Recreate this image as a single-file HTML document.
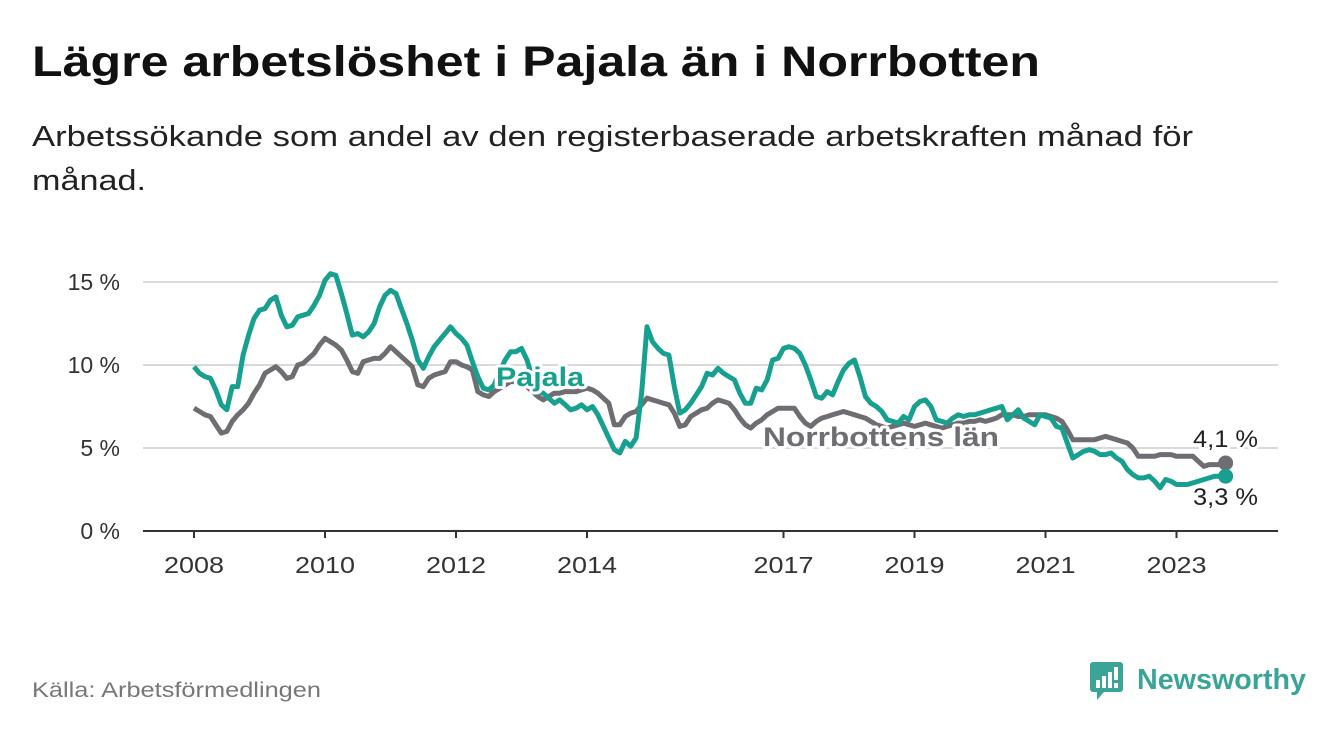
<!DOCTYPE html>
<html><head><meta charset="utf-8">
<style>
body{margin:0;background:#fff;width:1340px;height:734px;overflow:hidden;font-family:"Liberation Sans",sans-serif;}
svg{position:absolute;left:0;top:0}
</style></head>
<body>
<svg width="1340" height="734" id="chart">
<text x="32" y="76" font-size="43" font-weight="bold" fill="#111" textLength="1008" lengthAdjust="spacingAndGlyphs">Lägre arbetslöshet i Pajala än i Norrbotten</text>
<text x="32" y="146" font-size="29" fill="#222" textLength="1161" lengthAdjust="spacingAndGlyphs">Arbetssökande som andel av den registerbaserade arbetskraften månad för</text>
<text x="32" y="190" font-size="29" fill="#222" textLength="114" lengthAdjust="spacingAndGlyphs">månad.</text>
<g id="grid"></g>
<g id="series"></g>
<g id="labels"></g>
<text x="32" y="697" font-size="21" fill="#777" textLength="289" lengthAdjust="spacingAndGlyphs">Källa: Arbetsförmedlingen</text>
<g>
<rect x="1090" y="662" width="33" height="30" rx="3" fill="#3aa597"/>
<polygon points="1097,692 1104,692 1097,700" fill="#3aa597"/>
<rect x="1096" y="680" width="4" height="8" fill="#fff"/><rect x="1102" y="676" width="4" height="12" fill="#fff"/><rect x="1108" y="672" width="4" height="16" fill="#fff"/><rect x="1114" y="667" width="4" height="13" fill="#fff"/><rect x="1114" y="683" width="4" height="5" fill="#fff"/>
<text x="1137" y="689" font-size="29" font-weight="bold" fill="#3aa597" textLength="169" lengthAdjust="spacingAndGlyphs">Newsworthy</text>
</g>
</svg>
<script>
const yTicks=[0,5,10,15];
const yTickLabels=["0 %","5 %","10 %","15 %"];
const xTickYears=[2008,2010,2012,2014,2017,2019,2021,2023];
const startYear=2008;
const pajala=[9.9,9.5,9.3,9.2,8.5,7.6,7.3,8.7,8.7,10.6,
11.8,12.8,13.3,13.4,13.9,14.1,13.0,12.3,12.4,12.9,
13.0,13.1,13.6,14.2,15.1,15.5,15.4,14.3,13.1,11.8,
11.9,11.7,12.0,12.5,13.5,14.2,14.5,14.3,13.4,12.5,
11.5,10.3,9.8,10.5,11.1,11.5,11.9,12.3,11.9,11.6,
11.2,10.2,9.3,8.6,8.5,8.8,9.6,10.3,10.8,10.8,
11.0,10.3,9.2,8.4,8.3,8.0,7.7,7.9,7.6,7.3,
7.4,7.6,7.3,7.5,7.0,6.3,5.6,4.9,4.7,5.4,
5.1,5.6,8.3,12.3,11.4,11.0,10.7,10.6,8.7,7.1,
7.3,7.7,8.2,8.7,9.5,9.4,9.8,9.5,9.3,9.1,
8.3,7.7,7.7,8.6,8.5,9.1,10.3,10.4,11.0,11.1,
11.0,10.7,10.0,9.1,8.1,8.0,8.4,8.2,9.0,9.7,
10.1,10.3,9.3,8.1,7.7,7.5,7.2,6.7,6.6,6.5,
6.9,6.7,7.5,7.8,7.9,7.5,6.7,6.6,6.5,6.8,
7.0,6.9,7.0,7.0,7.1,7.2,7.3,7.4,7.5,6.7,
7.0,7.3,6.8,6.6,6.4,7.0,6.9,6.8,6.3,6.2,
5.3,4.4,4.6,4.8,4.9,4.8,4.6,4.6,4.7,4.4,
4.2,3.7,3.4,3.2,3.2,3.3,3.0,2.6,3.1,3.0,
2.8,2.8,2.8,2.9,3.0,3.1,3.2,3.3,3.3,3.3];
const norrbotten=[7.4,7.2,7.0,6.9,6.4,5.9,6.0,6.6,7.0,7.3,
7.7,8.3,8.8,9.5,9.7,9.9,9.6,9.2,9.3,10.0,
10.1,10.4,10.7,11.2,11.6,11.4,11.2,10.9,10.3,9.6,
9.5,10.2,10.3,10.4,10.4,10.7,11.1,10.8,10.5,10.2,
9.9,8.8,8.7,9.2,9.4,9.5,9.6,10.2,10.2,10.0,
9.9,9.7,8.4,8.2,8.1,8.4,8.6,8.8,9.0,9.0,
8.9,8.7,8.4,8.1,7.9,8.1,8.3,8.3,8.4,8.4,
8.4,8.5,8.6,8.5,8.3,8.0,7.7,6.4,6.4,6.9,
7.1,7.2,7.6,8.0,7.9,7.8,7.7,7.6,7.1,6.3,
6.4,6.9,7.1,7.3,7.4,7.7,7.9,7.8,7.7,7.3,
6.8,6.4,6.2,6.5,6.7,7.0,7.2,7.4,7.4,7.4,
7.4,6.9,6.5,6.3,6.6,6.8,6.9,7.0,7.1,7.2,
7.1,7.0,6.9,6.8,6.6,6.4,6.3,6.2,6.3,6.4,
6.5,6.4,6.3,6.4,6.5,6.4,6.3,6.2,6.3,6.4,
6.5,6.5,6.6,6.6,6.7,6.6,6.7,6.8,7.0,7.0,
7.0,6.9,6.9,7.0,7.0,7.0,7.0,6.9,6.8,6.6,
6.1,5.5,5.5,5.5,5.5,5.5,5.6,5.7,5.6,5.5,
5.4,5.3,5.0,4.5,4.5,4.5,4.5,4.6,4.6,4.6,
4.5,4.5,4.5,4.5,4.2,3.9,4.0,4.0,4.0,4.1];

const NS="http://www.w3.org/2000/svg";
const x0=194,pxYear=65.5,y0=531,pxPct=16.6;
function xMonth(i){return x0+i*pxYear/12;}
function xYear(y){return x0+(y-startYear)*pxYear;}
function yv(v){return y0-v*pxPct;}
function mk(tag,attrs,parent){const e=document.createElementNS(NS,tag);for(const k in attrs)e.setAttribute(k,attrs[k]);parent.appendChild(e);return e;}
const grid=document.getElementById('grid'),series=document.getElementById('series'),labels=document.getElementById('labels');
yTicks.forEach((t,k)=>{
  if(t>0){const l=mk('line',{x1:143,x2:1278,y1:yv(t),y2:yv(t),stroke:'#d9d9d9','stroke-width':2},grid);
  
  }
  const tx=mk('text',{x:120,y:yv(t)+8,'font-size':23,fill:'#333','text-anchor':'end'},grid);
  tx.textContent=yTickLabels[k];
  
  
});
const ax=mk('line',{x1:143,x2:1278,y1:y0,y2:y0,stroke:'#333','stroke-width':2},grid);


xTickYears.forEach(yr=>{
  const x=xYear(yr);
  const tk=mk('line',{x1:x,x2:x,y1:y0,y2:y0+7,stroke:'#333','stroke-width':2},grid);
  
  
  const tx=mk('text',{x:x,y:573,'font-size':23,fill:'#333','text-anchor':'middle',textLength:60,lengthAdjust:'spacingAndGlyphs'},grid);
  tx.textContent=yr;
  
  
});
function line(data,color,name){
  const d=data.map((v,i)=>(i?'L':'M')+xMonth(i).toFixed(1)+','+yv(v).toFixed(1)).join('');
  const p=mk('path',{d:d,fill:'none',stroke:color,'stroke-width':5,'stroke-linejoin':'round'},series);
  
  
  const n=data.length-1;
  const c=mk('circle',{cx:xMonth(n),cy:yv(data[n]),r:7.5,fill:color},series);
  
  
}
line(norrbotten,'#6e6d72','norrbotten-line');
line(pajala,'#17a090','pajala-line');
function lbl(txt,x,y,col,fs,bold,w,name){
  const t=mk('text',{x:x,y:y,'font-size':fs,fill:col,'font-weight':bold?'bold':'normal',stroke:'#fff','stroke-width':6,'paint-order':'stroke','stroke-linejoin':'round',textLength:w,lengthAdjust:'spacingAndGlyphs'},labels);
  t.textContent=txt;
  
  
}
lbl('Pajala',496,386,'#17a090',27,true,88,'pajala-series-label');
lbl('Norrbottens län',763,446,'#6e6d72',27,true,236,'norrbotten-series-label');
lbl('4,1 %',1193,447,'#222',24,false,65,'norrbotten-end-value');
lbl('3,3 %',1193,505,'#222',24,false,65,'pajala-end-value');
</script>
</body></html>
